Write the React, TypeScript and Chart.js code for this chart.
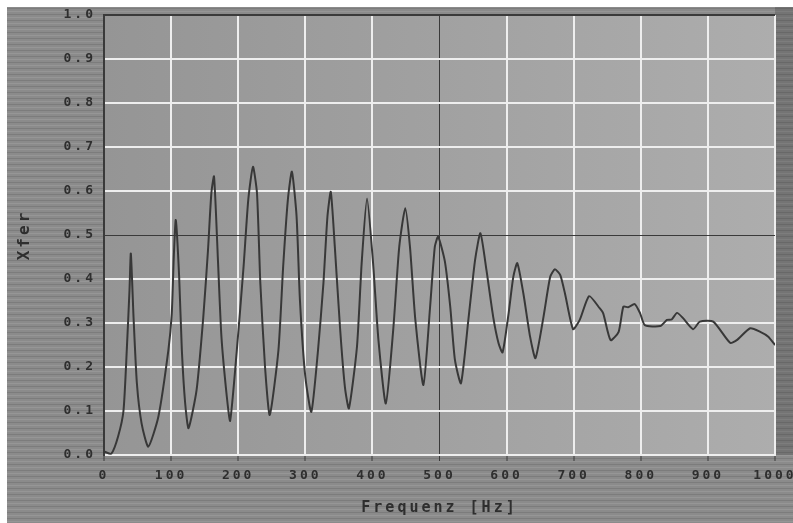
import { useEffect, useRef } from "react";
import { Chart, registerables } from "chart.js";

Chart.register(...registerables);

// Frequency (Hz) of each traced point
const frequencies = [
  0, 11, 21, 29, 34, 38, 40, 44, 49, 56,
  66, 81, 96, 101, 104, 107, 112, 116, 121, 126,
  138, 148, 155, 160, 164, 170, 175, 183, 188, 198,
  208, 215, 222, 228, 233, 240, 247, 260, 267, 274,
  280, 287, 292, 300, 309, 319, 327, 333, 338, 344,
  352, 359, 365, 377, 384, 392, 401, 409, 420, 431,
  440, 449, 456, 464, 476, 486, 493, 498, 508, 516,
  523, 532, 543, 553, 561, 570, 580, 588, 594, 603,
  610, 616, 625, 635, 643, 655, 665, 672, 680, 687,
  699, 709, 723, 739, 744, 755, 767, 774, 781, 791,
  799, 806, 829, 839, 846, 854, 863, 878, 888, 908,
  933, 943, 963, 978, 990, 1000,
];

// Transfer value (Xfer) at each frequency
const xfer = [
  0.008, 0.003, 0.042, 0.10, 0.24, 0.375, 0.458, 0.314, 0.163, 0.072,
  0.019, 0.087, 0.239, 0.322, 0.45, 0.534, 0.405, 0.239, 0.117, 0.061,
  0.148, 0.314, 0.466, 0.595, 0.633, 0.436, 0.269, 0.133, 0.078, 0.239,
  0.428, 0.58, 0.655, 0.595, 0.39, 0.2, 0.091, 0.239, 0.428, 0.58,
  0.644, 0.542, 0.352, 0.178, 0.098, 0.239, 0.39, 0.542, 0.598, 0.473,
  0.284, 0.155, 0.106, 0.246, 0.436, 0.583, 0.436, 0.261, 0.117, 0.284,
  0.473, 0.561, 0.473, 0.307, 0.159, 0.337, 0.473, 0.496, 0.44, 0.337,
  0.216, 0.163, 0.307, 0.443, 0.504, 0.42, 0.314, 0.254, 0.233, 0.322,
  0.405, 0.436, 0.367, 0.269, 0.22, 0.314, 0.405, 0.422, 0.409, 0.367,
  0.286, 0.307, 0.361, 0.333, 0.322, 0.261, 0.28, 0.337, 0.336, 0.343,
  0.322, 0.295, 0.293, 0.307, 0.308, 0.323, 0.311, 0.286, 0.303, 0.303,
  0.255, 0.261, 0.288, 0.28, 0.269, 0.25,
];

const xTicks = [0, 100, 200, 300, 400, 500, 600, 700, 800, 900, 1000];
const yTicks = [0, 0.1, 0.2, 0.3, 0.4, 0.5, 0.6, 0.7, 0.8, 0.9, 1.0];
const xCursor = 500;
const yCursor = 0.5;
const xTitle = "Frequenz [Hz]";
const yTitle = "Xfer";

const near = (a: number, b: number) => Math.abs(a - b) < 1e-6;

const backgroundPlugin = {
  id: "scanBackground",
  beforeDraw(chart: any) {
    const { ctx, width, height, chartArea: a } = chart;
    ctx.save();
    ctx.fillStyle = "#ffffff";
    ctx.fillRect(0, 0, width, height);
    ctx.fillStyle = "#8b8b8b";
    ctx.fillRect(7, 7, width - 7, height - 7);
    for (let y = 8; y < height; y += 3) {
      ctx.fillStyle = y % 2 ? "rgba(255,255,255,0.10)" : "rgba(0,0,0,0.10)";
      ctx.fillRect(7, y, width - 7, 1);
    }
    ctx.fillStyle = "rgba(0,0,0,0.16)";
    ctx.fillRect(a.right, 7, width - a.right, a.bottom - 7);
    const g = ctx.createLinearGradient(a.left, 0, a.right, 0);
    g.addColorStop(0, "#959595");
    g.addColorStop(1, "#adadad");
    ctx.fillStyle = g;
    ctx.fillRect(a.left, a.top, a.right - a.left, a.bottom - a.top);
    ctx.restore();
    try {
      (ctx as any).letterSpacing = "3px";
    } catch (e) {}
  },
};

export default function App() {
  const ref = useRef<HTMLCanvasElement | null>(null);

  useEffect(() => {
    if (!ref.current) return;
    const points = frequencies.map((f, i) => ({ x: f, y: xfer[i] }));
    const chart = new Chart(ref.current, {
      type: "line",
      data: {
        datasets: [
          {
            data: points,
            borderColor: "#383838",
            borderWidth: 2,
            pointRadius: 0,
            tension: 0.2,
            fill: false,
          },
        ],
      },
      options: {
        animation: false,
        responsive: false,
        devicePixelRatio: 1,
        layout: { padding: { left: 0, top: 15, right: 18, bottom: 0 } },
        plugins: { legend: { display: false }, tooltip: { enabled: false } },
        scales: {
          x: {
            type: "linear",
            min: 0,
            max: 1000,
            afterBuildTicks: (s: any) => {
              s.ticks = xTicks.map((v) => ({ value: v }));
            },
            afterFit: (s: any) => {
              s.height = 68;
              s.paddingLeft = 0;
              s.paddingRight = 0;
            },
            grid: {
              color: (c: any) =>
                near(c.tick.value, 0) || near(c.tick.value, xCursor) ? "#3a3a3a" : "#eeeeee",
              lineWidth: (c: any) =>
                near(c.tick.value, 0) ? 2 : near(c.tick.value, xCursor) ? 1 : 2,
              tickColor: "#3a3a3a",
              tickLength: 6,
              tickWidth: 1,
            },
            border: { color: "#eeeeee", width: 2 },
            ticks: {
              padding: 7,
              color: "#2e2e2e",
              font: { family: "DejaVu Sans Mono", size: 13, weight: "bold" },
              maxRotation: 0,
              autoSkip: false,
              callback: (v: any) => String(v),
            },
            title: {
              display: true,
              text: xTitle,
              color: "#2e2e2e",
              font: { family: "DejaVu Sans Mono", size: 15, weight: "bold" },
              padding: { top: 0, bottom: 6 },
            },
          },
          y: {
            type: "linear",
            min: 0,
            max: 1,
            afterBuildTicks: (s: any) => {
              s.ticks = yTicks.map((v) => ({ value: v }));
            },
            afterFit: (s: any) => {
              s.width = 104;
              s.paddingTop = 0;
              s.paddingBottom = 0;
            },
            grid: {
              color: (c: any) =>
                near(c.tick.value, 1) || near(c.tick.value, yCursor) ? "#3a3a3a" : "#eeeeee",
              lineWidth: (c: any) =>
                near(c.tick.value, 1) ? 2 : near(c.tick.value, yCursor) ? 1 : 2,
              drawTicks: false,
            },
            border: { color: "#3a3a3a", width: 2 },
            ticks: {
              padding: 8,
              color: "#2e2e2e",
              font: { family: "DejaVu Sans Mono", size: 13, weight: "bold" },
              callback: (v: any) => Number(v).toFixed(1),
            },
            title: {
              display: true,
              text: yTitle,
              color: "#2e2e2e",
              font: { family: "DejaVu Sans Mono", size: 16, weight: "bold" },
              padding: { top: 15, bottom: 0 },
            },
          },
        },
      },
      plugins: [backgroundPlugin],
    } as any);
    return () => chart.destroy();
  }, []);

  return (
    <div style={{ position: "fixed", left: 0, top: 0, width: 793, height: 523 }}>
      <canvas ref={ref} width={793} height={523} style={{ display: "block", width: 793, height: 523 }} />
    </div>
  );
}
